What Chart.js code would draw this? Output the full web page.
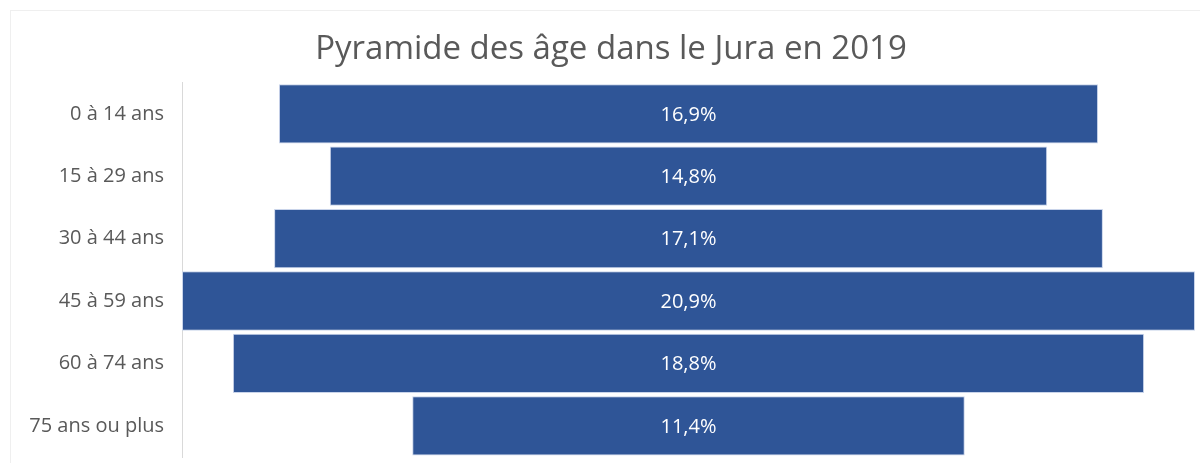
<!DOCTYPE html>
<html lang="fr">
<head>
<meta charset="utf-8">
<title>Pyramide des âge dans le Jura en 2019</title>
<script src="https://cdn.jsdelivr.net/npm/chart.js@4/dist/chart.umd.min.js"></script>
<style>
  html, body { margin: 0; padding: 0; background: #fff; overflow: hidden; }
  #frame {
    position: absolute; left: 10px; top: 10px;
    width: 1189px; height: 452px;
    border-top: 1px solid #efefef; border-left: 1px solid #efefef;
  }
  #chart-wrap { position: relative; width: 1189px; height: 452px; }
</style>
</head>
<body>
<div id="frame">
  <div id="chart-wrap"><canvas id="pyramidChart"></canvas></div>
</div>
<script>
// Age groups and their share of the population (%)
const ageGroups = ['0 à 14 ans', '15 à 29 ans', '30 à 44 ans', '45 à 59 ans', '60 à 74 ans', '75 ans ou plus'];
const shares = [16.9, 14.8, 17.1, 20.9, 18.8, 11.4];

const TEXT_GREY = '#595959';
const BAR_BLUE = '#2f5597';
const FONT = "'Open Sans', 'Liberation Sans', sans-serif";

// Each bar is centred on zero so the widths form a pyramid
const centredBars = shares.map(v => [-v / 2, v / 2]);
const halfMax = Math.max(...shares) / 2;

// Writes the percentage in the middle of each bar
const valueLabels = {
  id: 'valueLabels',
  afterDatasetsDraw(chart) {
    const ctx = chart.ctx;
    const meta = chart.getDatasetMeta(0);
    ctx.save();
    ctx.fillStyle = '#ffffff';
    ctx.font = `20px ${FONT}`;
    ctx.textAlign = 'center';
    ctx.textBaseline = 'middle';
    meta.data.forEach((bar, i) => {
      const txt = shares[i].toFixed(1).replace('.', ',') + '%';
      ctx.fillText(txt, bar.base + (bar.x - bar.base) / 2, bar.y + 1);
    });
    ctx.restore();
  }
};

const ctx = document.getElementById('pyramidChart').getContext('2d');
new Chart(ctx, {
  type: 'bar',
  data: {
    labels: ageGroups,
    datasets: [{
      data: centredBars,
      backgroundColor: BAR_BLUE,
      borderColor: '#c9d4ea',
      borderWidth: 1,
      borderSkipped: false,
      barPercentage: 0.95,
      categoryPercentage: 1
    }]
  },
  options: {
    indexAxis: 'y',
    responsive: true,
    maintainAspectRatio: false,
    animation: false,
    layout: { padding: { top: 0, right: 5, bottom: 6, left: 16 } },
    plugins: {
      legend: { display: false },
      tooltip: { enabled: false },
      title: {
        display: true,
        text: 'Pyramide des âge dans le Jura en 2019',
        color: TEXT_GREY,
        font: { family: FONT, size: 33, weight: 'normal' },
        padding: { top: 19, bottom: 13 }
      }
    },
    scales: {
      x: {
        display: false,
        min: -halfMax,
        max: halfMax
      },
      y: {
        afterFit: (scale) => {
          scale.width = 155;
          scale.paddingTop = 0;
          scale.paddingBottom = 0;
        },
        grid: { display: false, drawTicks: false },
        border: { display: true, color: '#d9d9d9', width: 1 },
        ticks: {
          color: TEXT_GREY,
          padding: 18,
          font: { family: FONT, size: 20 }
        }
      }
    }
  },
  plugins: [valueLabels]
});
</script>
</body>
</html>
